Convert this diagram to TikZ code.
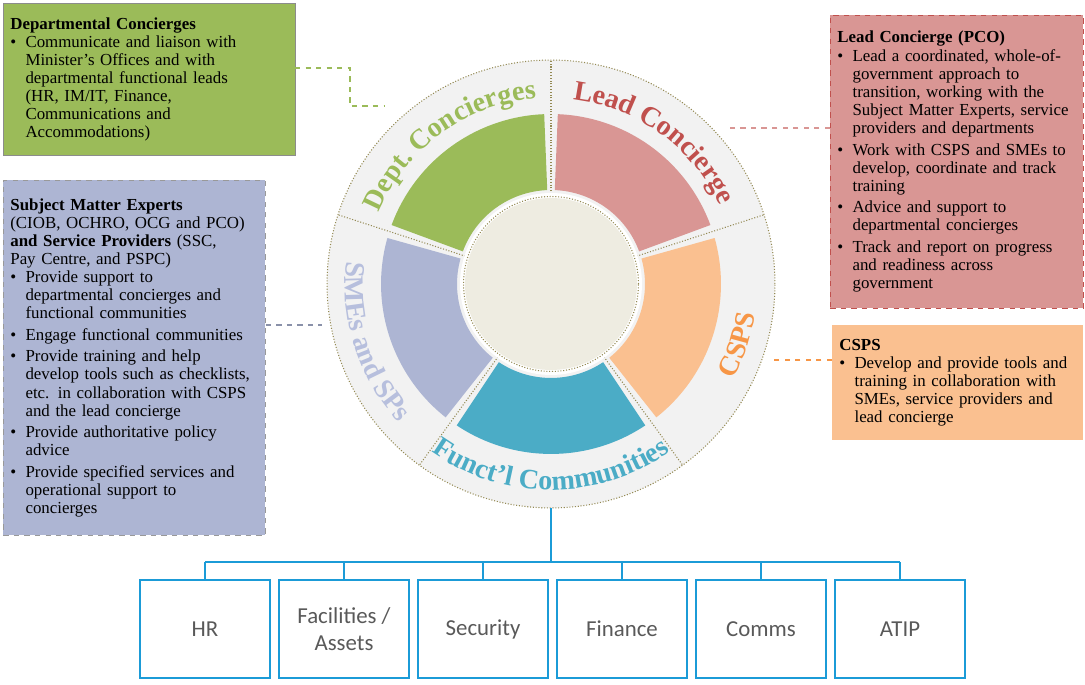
\documentclass[tikz,border=0pt]{standalone}
\usepackage{fontspec}
\setmainfont{Liberation Serif}
\newfontfamily\boxsans{Carlito}
\usetikzlibrary{positioning,decorations.text}
\definecolor{dgreen}{HTML}{9BBB59}
\definecolor{dred}{HTML}{D99694}
\definecolor{lred}{HTML}{C0504D}
\definecolor{dorange}{HTML}{FAC090}
\definecolor{lorange}{HTML}{F79646}
\definecolor{dteal}{HTML}{4BACC6}
\definecolor{dlav}{HTML}{ADB5D3}
\definecolor{llav}{HTML}{B7BFDD}
\definecolor{ringgray}{HTML}{F2F2F2}
\definecolor{core}{HTML}{EEECE1}
\definecolor{dots}{HTML}{948A54}
\definecolor{fblue}{HTML}{1B9BD7}
\newcommand{\ringfont}{\fontsize{16}{16}\selectfont\bfseries}
\newcommand{\bx}{\par\hangindent=0.9em\hangafter=1\noindent\makebox[0.9em][l]{\textbullet}}
\newcommand{\nl}{\newline}
\tikzset{
  infobox/.style={anchor=north west, inner sep=4pt, align=left, font=\fontsize{9.6}{10.3}\selectfont},
  funcbox/.style={draw=fblue, line width=1.1pt, minimum width=2.6cm, minimum height=1.96cm,
    align=center, text=black!65, font=\boxsans\fontsize{13}{15}\selectfont},
  link/.style={dashed, line width=0.6pt},
}
\begin{document}
\begin{tikzpicture}[x=0.02cm,y=0.02cm]
	\useasboundingbox (0,0) rectangle (1085,685);

	% the wheel
	\begin{scope}[shift={(551,401)},x=1cm,y=1cm]
		\fill[ringgray] (0,0) circle (4.48);
		\draw[dots, densely dotted, line width=0.6pt] (0,0) circle (4.48);
		\foreach \a/\c in {18/dred, 90/dgreen, 162/dlav, 234/dteal, 306/dorange}
			\fill[\c] (\a+2.3:1.88) arc[start angle=\a+2.3, end angle=\a+69.7, radius=1.88]
				-- (\a+69.7:3.4) arc[start angle=\a+69.7, end angle=\a+2.3, radius=3.4] -- cycle;
		\foreach \a in {18,90,162,234,306}
			\draw[dots, densely dotted, line width=0.6pt] (\a:1.8) -- (\a:4.48);
		\fill[white] (0,0) circle (1.82);
		\fill[core] (0,0) circle (1.72);
		\draw[dots, densely dotted, line width=0.6pt] (0,0) circle (1.75);
		% ring labels
		\path[decorate, decoration={text along path, text align=center, text color=dgreen,
			text={|\ringfont|Dept. Concierges}}] (162:3.72) arc[start angle=162, end angle=90, radius=3.72];
		\path[decorate, decoration={text along path, text align=center, text color=lred,
			text={|\ringfont|Lead Concierge}}] (90:3.72) arc[start angle=90, end angle=18, radius=3.72];
		\path[decorate, decoration={text along path, text align=center, text color=lorange,
			text={|\ringfont|CSPS}}] (-54:4.12) arc[start angle=-54, end angle=18, radius=4.12];
		\path[decorate, decoration={text along path, text align=center, text color=dteal,
			text={|\ringfont|Funct'l Communities}}] (-126:4.12) arc[start angle=-126, end angle=-54, radius=4.12];
		\path[decorate, decoration={text along path, text align=center, text color=llav,
			text={|\ringfont|SMEs and SPs}}] (162:4.12) arc[start angle=162, end angle=234, radius=4.12];
		\coordinate (wheelbottom) at (-90:4.48);
	\end{scope}

	% text boxes
	\node[infobox, fill=dgreen, draw=black!45, text width=5.56cm, minimum height=3.04cm] (dept) at (3,682) {%
		\textbf{Departmental Concierges}
		\bx Communicate and liaison with\nl Minister's Offices and with\nl departmental functional leads\nl (HR, IM/IT, Finance,\nl Communications and\nl Accommodations)\par};
	\node[infobox, fill=dred, draw=lred, dashed, text width=4.78cm, minimum height=5.86cm] (lead) at (830,670) {%
		\textbf{Lead Concierge (PCO)}
		\bx Lead a coordinated, whole-of-\nl government approach to\nl transition, working with the\nl Subject Matter Experts, service\nl providers and departments\par\vspace{2pt}
		\bx Work with CSPS and SMEs to\nl develop, coordinate and track\nl training\par\vspace{2pt}
		\bx Advice and support to\nl departmental concierges\par\vspace{2pt}
		\bx Track and report on progress\nl and readiness across\nl government\par};
	\node[infobox, fill=dlav, draw=black!40, dashed, text width=4.96cm, minimum height=7.1cm] (smes) at (3,505) {%
		\textbf{Subject Matter Experts}\nl (CIOB, OCHRO, OCG and PCO)\nl \textbf{and Service Providers} (SSC,\nl Pay Centre, and PSPC)
		\bx Provide support to\nl departmental concierges and\nl functional communities\par\vspace{2pt}
		\bx Engage functional communities\par\vspace{2pt}
		\bx Provide training and help\nl develop tools such as checklists,\nl etc. in collaboration with CSPS\nl and the lead concierge\par\vspace{2pt}
		\bx Provide authoritative policy\nl advice\par\vspace{2pt}
		\bx Provide specified services and\nl operational support to\nl concierges\par};
	\node[infobox, fill=dorange, text width=4.74cm, minimum height=2.3cm] (csps) at (832,360) {%
		\textbf{CSPS}
		\bx Develop and provide tools and\nl training in collaboration with\nl SMEs, service providers and\nl lead concierge\par};

	% dashed links to the wheel
	\coordinate (deptbend) at (350,617);
	\coordinate (deptend) at (385,579);
	\draw[link, dgreen] (295,617) -- (deptbend) |- (deptend);
	\coordinate (leadend) at (727,557);
	\draw[link, dred] (lead.west |- leadend) -- (leadend);
	\coordinate (smesend) at (322,360);
	\draw[link, dlav!80!black] (smes.east |- smesend) -- (smesend);
	\coordinate (cspsend) at (770,325);
	\draw[link, lorange] (csps.west |- cspsend) -- (cspsend);

	% functional communities
	\coordinate (hub) at (551,123);
	\draw[fblue, line width=0.6pt] (wheelbottom) -- (hub);
	\foreach \t [count=\i] in {HR, {Facilities /\\Assets}, Security, Finance, Comms, ATIP} {
		\node[funcbox] (f\i) at (205+139*\i-139,56) {\t};
		\draw[fblue, line width=0.6pt] (f\i.north) -- (f\i.north |- hub);
	}
	\draw[fblue, line width=0.6pt] (f1.north |- hub) -- (f6.north |- hub);
\end{tikzpicture}
\end{document}
